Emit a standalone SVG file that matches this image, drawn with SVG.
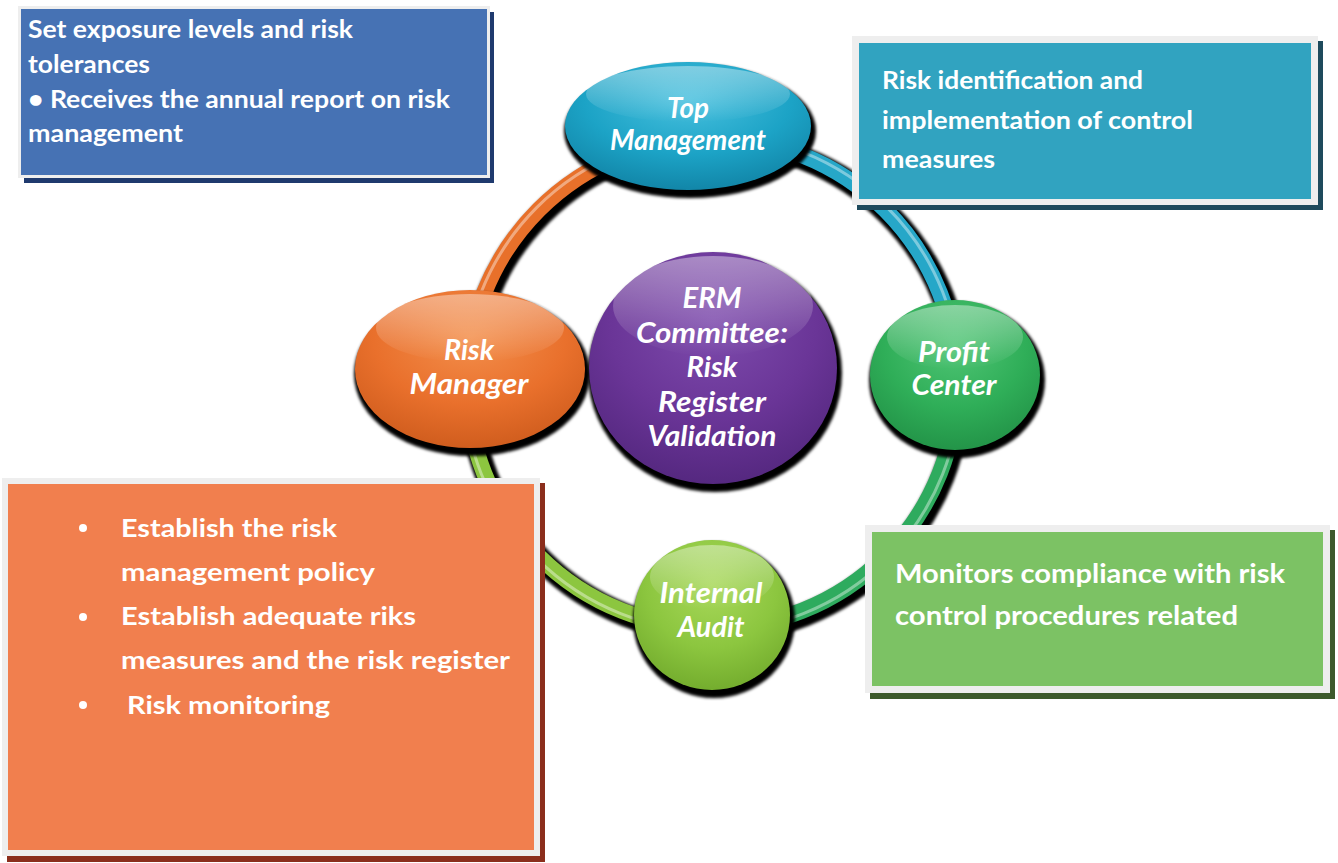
<svg xmlns="http://www.w3.org/2000/svg" width="1338" height="863" viewBox="0 0 1338 863">
  <defs>
    <radialGradient id="gTop" cx="50%" cy="30%" r="70%">
      <stop offset="0" stop-color="#48c0de"/>
      <stop offset="0.6" stop-color="#1ca3c6"/>
      <stop offset="1" stop-color="#1286a8"/>
    </radialGradient>
    <radialGradient id="gRisk" cx="50%" cy="30%" r="70%">
      <stop offset="0" stop-color="#f38f4c"/>
      <stop offset="0.6" stop-color="#e9702c"/>
      <stop offset="1" stop-color="#d05d1e"/>
    </radialGradient>
    <radialGradient id="gErm" cx="50%" cy="30%" r="70%">
      <stop offset="0" stop-color="#7e4cad"/>
      <stop offset="0.6" stop-color="#6a3597"/>
      <stop offset="1" stop-color="#552880"/>
    </radialGradient>
    <radialGradient id="gProfit" cx="50%" cy="30%" r="70%">
      <stop offset="0" stop-color="#50c575"/>
      <stop offset="0.6" stop-color="#2fae58"/>
      <stop offset="1" stop-color="#239448"/>
    </radialGradient>
    <radialGradient id="gAudit" cx="50%" cy="30%" r="70%">
      <stop offset="0" stop-color="#a8d85a"/>
      <stop offset="0.6" stop-color="#8cc63f"/>
      <stop offset="1" stop-color="#74ad2e"/>
    </radialGradient>
    <linearGradient id="gloss" x1="0" y1="0" x2="0" y2="1">
      <stop offset="0" stop-color="#ffffff" stop-opacity="0.4"/>
      <stop offset="1" stop-color="#ffffff" stop-opacity="0"/>
    </linearGradient>
    <filter id="soft" x="-10%" y="-10%" width="120%" height="120%">
      <feGaussianBlur stdDeviation="1.5"/>
    </filter>
  </defs>
  <style>
    .ring-shadow { fill: none; stroke: #000; stroke-width: 23; }
    .ring { fill: none; stroke-width: 16; }
    .ring-hl { fill: none; stroke: #fff; stroke-width: 3; stroke-opacity: 0.4; }
    .node-shadow { fill: #000; }
    .gloss { fill: url(#gloss); }
    .node-label { font-family: Lato, "Open Sans", sans-serif; font-weight: bold; font-style: italic; fill: #fff; text-anchor: middle; font-size: 29px; }
    .box-text { font-family: Lato, "Open Sans", sans-serif; font-weight: bold; fill: #fff; }
    .frame { fill: #eeeeee; }
  </style>

  <rect width="1338" height="863" fill="#ffffff"/>

  <!-- ring connectors between the roles -->
  <g id="connectors">
    <g transform="translate(3,4)" filter="url(#soft)">
      <circle class="ring-shadow" cx="712" cy="383" r="245"/>
    </g>
    <path class="ring" stroke="#e8702a" d="M467,383 A245,245 0 0 1 712,138"/>
    <path class="ring" stroke="#26a7c8" d="M712,138 A245,245 0 0 1 957,383"/>
    <path class="ring" stroke="#2eab5e" d="M957,383 A245,245 0 0 1 712,628"/>
    <path class="ring" stroke="#8cc63f" d="M712,628 A245,245 0 0 1 467,383"/>
    <circle class="ring-hl" cx="712" cy="383" r="248"/>
  </g>

  <!-- role nodes -->
  <g id="top-management">
    <ellipse class="node-shadow" cx="690" cy="131" rx="126" ry="67" filter="url(#soft)"/>
    <ellipse cx="688" cy="126" rx="123" ry="64" fill="url(#gTop)"/>
    <ellipse class="gloss" cx="688" cy="94" rx="102" ry="28"/>
    <text class="node-label" x="688" y="118" textLength="42" lengthAdjust="spacingAndGlyphs">Top</text>
    <text class="node-label" x="688" y="150" textLength="156" lengthAdjust="spacingAndGlyphs">Management</text>
  </g>

  <g id="risk-manager">
    <ellipse class="node-shadow" cx="472" cy="374" rx="118" ry="82" filter="url(#soft)"/>
    <ellipse cx="470" cy="369" rx="115" ry="79" fill="url(#gRisk)"/>
    <ellipse class="gloss" cx="470" cy="328" rx="94" ry="34"/>
    <text class="node-label" x="469" y="360" textLength="50" lengthAdjust="spacingAndGlyphs">Risk</text>
    <text class="node-label" x="469" y="394" textLength="119" lengthAdjust="spacingAndGlyphs">Manager</text>
  </g>

  <g id="erm-committee">
    <ellipse class="node-shadow" cx="715" cy="373" rx="127" ry="119" filter="url(#soft)"/>
    <ellipse cx="713" cy="368" rx="124" ry="116" fill="url(#gErm)"/>
    <ellipse class="gloss" cx="713" cy="306" rx="100" ry="50"/>
    <text class="node-label" x="712" y="308" textLength="59" lengthAdjust="spacingAndGlyphs">ERM</text>
    <text class="node-label" x="712" y="343" textLength="152" lengthAdjust="spacingAndGlyphs">Committee:</text>
    <text class="node-label" x="712" y="377" textLength="51" lengthAdjust="spacingAndGlyphs">Risk</text>
    <text class="node-label" x="712" y="412" textLength="108" lengthAdjust="spacingAndGlyphs">Register</text>
    <text class="node-label" x="712" y="446" textLength="129" lengthAdjust="spacingAndGlyphs">Validation</text>
  </g>

  <g id="profit-center">
    <ellipse class="node-shadow" cx="957" cy="380" rx="88" ry="78" filter="url(#soft)"/>
    <ellipse cx="955" cy="375" rx="85" ry="75" fill="url(#gProfit)"/>
    <ellipse class="gloss" cx="955" cy="337" rx="68" ry="32"/>
    <text class="node-label" x="954" y="362" textLength="72" lengthAdjust="spacingAndGlyphs">Profit</text>
    <text class="node-label" x="954" y="395" textLength="85" lengthAdjust="spacingAndGlyphs">Center</text>
  </g>

  <g id="internal-audit">
    <ellipse class="node-shadow" cx="714" cy="620" rx="81" ry="78" filter="url(#soft)"/>
    <ellipse cx="712" cy="615" rx="78" ry="75" fill="url(#gAudit)"/>
    <ellipse class="gloss" cx="712" cy="577" rx="62" ry="32"/>
    <text class="node-label" x="711" y="603" textLength="103" lengthAdjust="spacingAndGlyphs">Internal</text>
    <text class="node-label" x="711" y="637" textLength="67" lengthAdjust="spacingAndGlyphs">Audit</text>
  </g>

  <!-- description boxes -->
  <g id="board-box">
    <rect x="24" y="12" width="470" height="171" fill="#1f3a6e"/>
    <rect class="frame" x="18" y="6" width="472" height="172"/>
    <rect x="21" y="9" width="466" height="166" fill="#4672b4"/>
    <g class="box-text" font-size="24">
      <text x="28" y="38" textLength="325" lengthAdjust="spacingAndGlyphs">Set exposure levels and risk</text>
      <text x="28" y="73" textLength="122" lengthAdjust="spacingAndGlyphs">tolerances</text>
      <text x="28" y="108" textLength="422" lengthAdjust="spacingAndGlyphs">• Receives the annual report on risk</text>
      <text x="28" y="142" textLength="155" lengthAdjust="spacingAndGlyphs">management</text>
    </g>
  </g>

  <g id="profit-center-box">
    <rect x="857" y="41" width="466" height="169" fill="#1e4a5c"/>
    <rect class="frame" x="852" y="36" width="466" height="169"/>
    <rect x="859" y="43" width="452" height="156" fill="#31a3c0"/>
    <g class="box-text" font-size="24">
      <text x="882" y="89" textLength="261" lengthAdjust="spacingAndGlyphs">Risk identification and</text>
      <text x="882" y="129" textLength="311" lengthAdjust="spacingAndGlyphs">implementation of control</text>
      <text x="882" y="168" textLength="113" lengthAdjust="spacingAndGlyphs">measures</text>
    </g>
  </g>

  <g id="risk-manager-box">
    <rect x="7" y="483" width="538" height="379" fill="#8b2e1c"/>
    <rect class="frame" x="2" y="478" width="538" height="378"/>
    <rect x="8" y="484" width="526" height="366" fill="#f17f4e"/>
    <g class="box-text" font-size="25.5">
      <circle cx="83" cy="528" r="4" fill="#fff"/>
      <circle cx="83" cy="617" r="4" fill="#fff"/>
      <circle cx="83" cy="705" r="4" fill="#fff"/>
      <text x="121" y="537" textLength="216" lengthAdjust="spacingAndGlyphs">Establish the risk</text>
      <text x="121" y="581" textLength="254" lengthAdjust="spacingAndGlyphs">management policy</text>
      <text x="121" y="625" textLength="295" lengthAdjust="spacingAndGlyphs">Establish adequate riks</text>
      <text x="121" y="669" textLength="389" lengthAdjust="spacingAndGlyphs">measures and the risk register</text>
      <text x="127" y="714" textLength="203" lengthAdjust="spacingAndGlyphs">Risk monitoring</text>
    </g>
  </g>

  <g id="internal-audit-box">
    <rect x="870" y="530" width="465" height="169" fill="#3d5a2c"/>
    <rect class="frame" x="865" y="525" width="465" height="168"/>
    <rect x="872" y="532" width="451" height="154" fill="#7cc264"/>
    <g class="box-text" font-size="26.5">
      <text x="895" y="583" textLength="390" lengthAdjust="spacingAndGlyphs">Monitors compliance with risk</text>
      <text x="895" y="625" textLength="343" lengthAdjust="spacingAndGlyphs">control procedures related</text>
    </g>
  </g>
</svg>
